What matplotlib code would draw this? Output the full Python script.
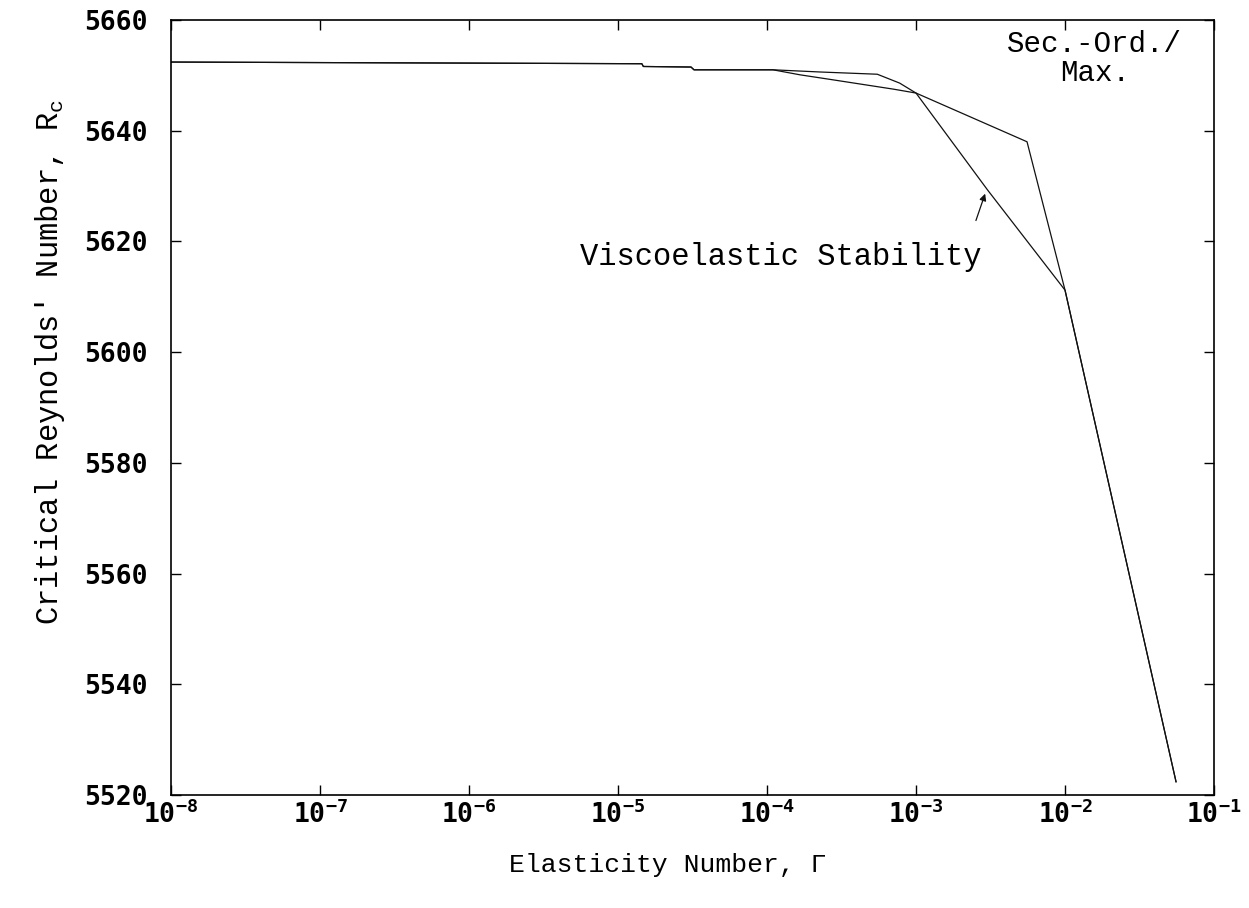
import numpy as np
import matplotlib
matplotlib.use("Agg")
import matplotlib.pyplot as plt

# elasticity number (log10) and critical Reynolds number
visco_logx = [-8.0, -4.84, -4.83, -4.51, -4.49, -3.96, -3.64, -3.26, -3.11, -3.0, -2.52, -2.0, -1.255]
visco_rc = [5652.4, 5652.1, 5651.6, 5651.5, 5651.0, 5651.0, 5650.6, 5650.2, 5648.6, 5646.8, 5629.3, 5611.2, 5522.4]

secord_logx = [-8.0, -4.84, -4.83, -4.51, -4.49, -3.96, -3.78, -3.56, -3.15, -3.0, -2.255, -2.0, -1.255]
secord_rc = [5652.4, 5652.1, 5651.6, 5651.5, 5651.0, 5651.0, 5650.1, 5649.2, 5647.5, 5646.8, 5638.0, 5611.2, 5522.4]

yticks = [5520, 5540, 5560, 5580, 5600, 5620, 5640, 5660]
xticks = [1e-8, 1e-7, 1e-6, 1e-5, 1e-4, 1e-3, 1e-2, 1e-1]

plt.rcParams['mathtext.default'] = 'regular'
plt.rcParams['axes.unicode_minus'] = False

fig = plt.figure(figsize=(12.49, 9.08), dpi=100)
ax = fig.add_axes([0.1369, 0.1244, 0.8351, 0.8536])

ax.plot(10.0 ** np.array(visco_logx), visco_rc, color='#111111', lw=0.9)
ax.plot(10.0 ** np.array(secord_logx), secord_rc, color='#111111', lw=0.9)

ax.set_xscale('log')
ax.set_xlim(1e-8, 1e-1)
ax.set_ylim(5520, 5660)
ax.set_xticks(xticks)
ax.set_yticks(yticks)
ax.minorticks_off()
ax.tick_params(direction='in', length=7, width=1, top=True, right=True)
ax.tick_params(axis='y', pad=17)
ax.tick_params(axis='x', pad=4)
for lab in ax.get_xticklabels() + ax.get_yticklabels():
    lab.set_fontfamily('DejaVu Sans Mono')
    lab.set_fontweight('bold')
    lab.set_fontsize(19)
for s in ax.spines.values():
    s.set_linewidth(1.2)

mono = 'Liberation Mono'
ax.set_xlabel('Elasticity Number, \u0393', fontfamily=mono, fontsize=19)
ax.xaxis.set_label_coords(0.476, -0.075)
ax.set_ylabel("Critical Reynolds' Number, R$_c$", fontfamily=mono, fontsize=22)
ax.yaxis.set_label_coords(-0.10, 0.559)

ax.text(10 ** -1.80, 5653.0, 'Sec.-Ord./\nMax.', fontfamily=mono, fontsize=21,
        ha='center', va='center', linespacing=1.05)
ax.text(10 ** -3.906, 5617.2, 'Viscoelastic Stability', fontfamily=mono, fontsize=22,
        ha='center', va='center')
ax.annotate('', xy=(10 ** -2.53, 5629.1), xytext=(10 ** -2.604, 5623.3),
            arrowprops=dict(arrowstyle='-|>', color='#111111', lw=0.9, mutation_scale=10))

fig.savefig('out.png', dpi=100)
